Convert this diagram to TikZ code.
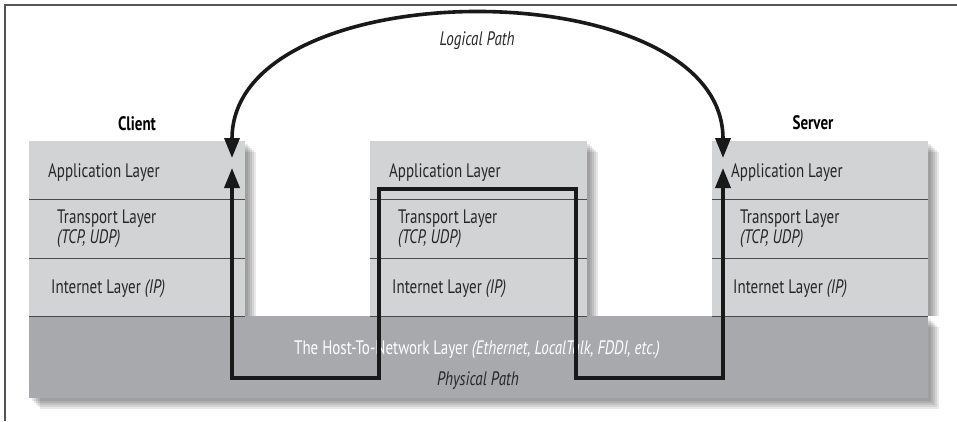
\documentclass[tikz,border=0pt]{standalone}
\usepackage{fontspec}
\setmainfont{PT Sans}[FakeStretch=0.77]
\usetikzlibrary{arrows.meta}
\definecolor{lay}{HTML}{D1D3D4}
\definecolor{band}{HTML}{A7A9AC}
\definecolor{rulec}{HTML}{4A4A4A}
\definecolor{framec}{HTML}{555555}
\begin{document}
\begin{tikzpicture}[x=1pt,y=-1pt,
  layer/.style={rectangle, fill=lay, draw=none, inner sep=0pt, anchor=north west, minimum width=216pt, minimum height=58pt},
  bandbox/.style={rectangle, fill=band, draw=none, inner sep=0pt, anchor=north west, minimum width=899pt, minimum height=82pt},
  sepline/.style={draw=rulec, line width=1.4pt},
  lbl/.style={anchor=base west, inner sep=0pt, text=black!85, font=\fontsize{19.5}{21}\selectfont},
  ttl/.style={anchor=base, inner sep=0pt, font=\fontsize{19.5}{21}\selectfont\bfseries},
  pathline/.style={line width=3.6pt, black!90, line join=miter, {Triangle[length=20pt,width=15pt]}-{Triangle[length=20pt,width=15pt]}},
  shadowfill/.style={fill=black, opacity=0.09}
]
\useasboundingbox (0,0) rectangle (957,421);
% frame
\draw[framec, line width=1.6pt] (5,421) -- (5,5) -- (957,5);

% shadows
\foreach \d in {3,5,7,9,11}{
  \fill[shadowfill] (29+\d,141+\d) rectangle (245+\d,316);
  \fill[shadowfill] (370+\d,141+\d) rectangle (587+\d,316);
  \fill[shadowfill] (712+\d,141+\d) rectangle (928+\d,316);
  \fill[shadowfill] (29+\d,316+\d) rectangle (928+\d,398+\d);
}

% bottom band
\node[bandbox] (band) at (29,316) {};

% client stack
\node[layer] (cA) at (29,141) {};
\node[layer, minimum height=59pt] (cT) at (29,199) {};
\node[layer] (cI) at (29,258) {};
% middle stack
\node[layer, minimum width=217pt] (mA) at (370,141) {};
\node[layer, minimum width=217pt, minimum height=59pt] (mT) at (370,199) {};
\node[layer, minimum width=217pt] (mI) at (370,258) {};
% server stack
\node[layer] (sA) at (712,141) {};
\node[layer, minimum height=59pt] (sT) at (712,199) {};
\node[layer] (sI) at (712,258) {};

% separators
\foreach \n in {cA,cT,cI,mA,mT,mI,sA,sT,sI}{
  \draw[sepline] (\n.south west) -- (\n.south east);
}

% titles
\node[ttl] (client) at (137,130) {Client};
\node[ttl] (server) at (813,129) {Server};

% labels client
\node[lbl] (cAl) at (48,177) {Application Layer};
\node[lbl] (cTl) at (57,223) {Transport Layer};
\node[lbl] (cTp) at (57,243) {\itshape (TCP, UDP)};
\node[lbl] (cIl) at (51,293) {Internet Layer \textit{(IP)}};
% labels middle
\node[lbl] (mAl) at (389,177) {Application Layer};
\node[lbl] (mTl) at (398,223) {Transport Layer};
\node[lbl] (mTp) at (398,243) {\itshape (TCP, UDP)};
\node[lbl] (mIl) at (392,293) {Internet Layer \textit{(IP)}};
% labels server
\node[lbl] (sAl) at (731,177) {Application Layer};
\node[lbl] (sTl) at (740,223) {Transport Layer};
\node[lbl] (sTp) at (740,243) {\itshape (TCP, UDP)};
\node[lbl] (sIl) at (733,293) {Internet Layer \textit{(IP)}};

% band labels
\node[anchor=base, inner sep=0pt, text=white, font=\fontsize{19.5}{21}\selectfont] (bandl) at (477,354)
  {The Host-To-Network Layer \textit{(Ethernet, LocalTalk, FDDI, etc.)}};
\node[anchor=base, inner sep=0pt, text=black!85, font=\fontsize{19.5}{21}\selectfont\itshape] (phys) at (478,385) {Physical Path};
\node[anchor=base, inner sep=0pt, text=black!85, font=\fontsize{19.5}{21}\selectfont\itshape] (logic) at (477,45) {Logical Path};

% path end points
\coordinate (cLog) at (232,158);
\coordinate (sLog) at (723,158);
\coordinate (cPhy) at (232,168);
\coordinate (sPhy) at (723,168);

% logical path
\draw[pathline] (cLog) .. controls (232,-31) and (723,-31) .. (sLog);
% physical path
\draw[pathline] (cPhy) -- (232,378) -- (379,378) -- (379,189) -- (576,189) -- (576,378) -- (723,378) -- (sPhy);
\end{tikzpicture}
\end{document}
